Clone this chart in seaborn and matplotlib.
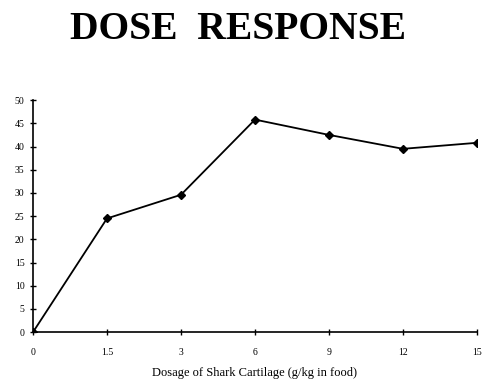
import pandas as pd
import matplotlib
matplotlib.use("Agg")
import matplotlib.pyplot as plt
import seaborn as sns

# dose levels (g/kg in food) and the response
doses = ["0", "1.5", "3", "6", "9", "12", "15"]
response = [0, 24.5, 29.6, 45.8, 42.5, 39.5, 40.8]

df = pd.DataFrame({"dose": doses, "response": response})

sns.set_style("white")
plt.rcParams["font.family"] = ["Liberation Serif", "DejaVu Serif"]
plt.rcParams["text.color"] = "black"
plt.rcParams["axes.labelcolor"] = "black"

fig = plt.figure(figsize=(5, 3.88), dpi=100)
ax = fig.add_axes([0.066, 0.144, 0.888, 0.598])

sns.pointplot(x="dose", y="response", data=df, order=doses, color="black",
              markers="D", markersize=3.8, linewidth=1.3, ax=ax)

ax.set_xlim(0, len(doses) - 1)
ax.set_ylim(0, 50)
ax.set_yticks(range(0, 51, 5))
ax.set_xlabel("Dosage of Shark Cartilage (g/kg in food)", fontsize=9,
              labelpad=7, color="black")
ax.set_ylabel("")
ax.tick_params(axis="both", direction="inout", length=5, width=1, labelsize=7,
               color="black", labelcolor="black", bottom=True, left=True)
ax.tick_params(axis="x", pad=9)
sns.despine(ax=ax)
for side in ["left", "bottom"]:
    ax.spines[side].set_color("black")
    ax.spines[side].set_linewidth(1.2)

fig.text(0.475, 0.925, "DOSE  RESPONSE", ha="center", va="center",
         fontsize=28.5, fontweight="bold", color="black")

fig.savefig("out.png", dpi=100)
